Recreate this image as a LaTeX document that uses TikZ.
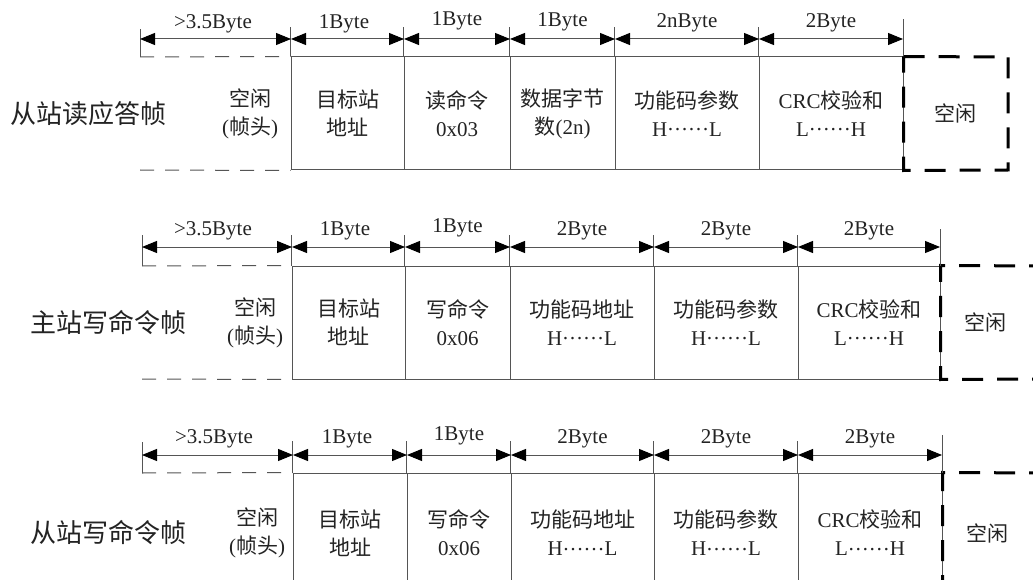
\documentclass[tikz,border=0pt]{standalone}
\usepackage{fontspec}
\setmainfont{Liberation Serif}
\newfontfamily\cjk{Noto Sans CJK SC}
\newcommand\zh[1]{{\cjk #1}}
\newcommand\dts{\raisebox{5.5pt}{……}}
\usetikzlibrary{arrows.meta,calc}
\definecolor{ln}{RGB}{85,85,85}
\definecolor{tx}{RGB}{35,35,35}
\tikzset{
 cellbox/.style={draw=ln, line width=1pt, inner sep=0pt, align=center, text=tx, font=\fontsize{21}{28}\selectfont},
 celltext/.style={inner sep=0pt, align=center, text=tx, font=\fontsize{21}{28}\selectfont},
 headline/.style={draw=ln, line width=1pt, dash pattern=on 14pt off 11pt},
 idleline/.style={draw=black, line width=3pt, dash pattern=on 21pt off 14pt},
 tickline/.style={draw=ln, line width=1pt},
 dimline/.style={draw=ln, line width=1pt, {Triangle[length=15pt,width=12pt,color=black]}-{Triangle[length=15pt,width=12pt,color=black]}},
 lbl/.style={inner sep=0pt, text=tx, font=\fontsize{21}{24}\selectfont},
 framelbl/.style={inner sep=0pt, text=tx, font=\fontsize{26}{30}\selectfont\cjk},
}
\begin{document}
\begin{tikzpicture}[x=1pt,y=-1pt]
\useasboundingbox (0,0) rectangle (1033,580);
\fill[white] (0,0) rectangle (1033,580);

% ================= Frame 1 =================
\node[framelbl] (f1name) at (88,113.5) {从站读应答帧};
\node[celltext] (f1h) at (250,113.5) {\zh{空闲}\\(\zh{帧头})};
\node[cellbox, minimum width=113pt, minimum height=113pt] (f1c2) at (347.5,113.5) {\zh{目标站}\\\zh{地址}};
\node[cellbox, minimum width=106pt, minimum height=113pt] (f1c3) at (457,113.5) {\zh{读命令}\\0x03};
\node[cellbox, minimum width=105pt, minimum height=113pt] (f1c4) at (562.5,113.5) {\zh{数据字节}\\\zh{数}(2n)};
\node[cellbox, minimum width=144pt, minimum height=113pt] (f1c5) at (687,113.5) {\zh{功能码参数}\\H\dts L};
\node[cellbox, minimum width=144pt, minimum height=113pt] (f1c6) at (831,113.5) {CRC\zh{校验和}\\L\dts H};
\node[celltext] (f1t) at (955.5,113.5) {\zh{空闲}};
\coordinate (f1hn) at (140,57);
\coordinate (f1hs) at (140,170);
\draw[headline] (f1hn) -- (f1c2.north west);
\draw[headline] (f1hs) -- (f1c2.south west);
\coordinate (f1tne) at (1008,57);
\coordinate (f1tse) at (1008,170);
\draw[idleline] (f1c6.north east) -- (f1tne) -- (f1tse) -- (f1c6.south east) -- cycle;
% ticks
\draw[tickline] (f1hn) -- (140,29);
\foreach \c in {f1c2,f1c3,f1c4,f1c5,f1c6} \draw[tickline] (\c.north west) -- ++(0,-29);
\draw[tickline] (f1c6.north east) -- ++(0,-37);
% dimension arrows
\coordinate (f1a0) at (140,39);
\coordinate (f1a1) at (291,39);
\coordinate (f1a2) at (404,39);
\coordinate (f1a3) at (510,39);
\coordinate (f1a4) at (615,39);
\coordinate (f1a5) at (759,39);
\coordinate (f1a6) at (903,39);
\draw[dimline] (f1a0) -- (f1a1);
\draw[dimline] (f1a1) -- (f1a2);
\draw[dimline] (f1a2) -- (f1a3);
\draw[dimline] (f1a3) -- (f1a4);
\draw[dimline] (f1a4) -- (f1a5);
\draw[dimline] (f1a5) -- (f1a6);
\node[lbl] (f1l1) at (213,24) {>3.5Byte};
\node[lbl] (f1l2) at (344,24) {1Byte};
\node[lbl] (f1l3) at (457,21) {1Byte};
\node[lbl] (f1l4) at (562.5,22) {1Byte};
\node[lbl] (f1l5) at (687,23) {2nByte};
\node[lbl] (f1l6) at (831,23) {2Byte};

% ================= Frame 2 =================
\node[framelbl] (f2name) at (108,322.5) {主站写命令帧};
\node[celltext] (f2h) at (255,322.5) {\zh{空闲}\\(\zh{帧头})};
\node[cellbox, minimum width=113pt, minimum height=113pt] (f2c2) at (348.5,322.5) {\zh{目标站}\\\zh{地址}};
\node[cellbox, minimum width=105pt, minimum height=113pt] (f2c3) at (457.5,322.5) {\zh{写命令}\\0x06};
\node[cellbox, minimum width=144pt, minimum height=113pt] (f2c4) at (582,322.5) {\zh{功能码地址}\\H\dts L};
\node[cellbox, minimum width=144pt, minimum height=113pt] (f2c5) at (726,322.5) {\zh{功能码参数}\\H\dts L};
\node[cellbox, minimum width=142pt, minimum height=113pt] (f2c6) at (869,322.5) {CRC\zh{校验和}\\L\dts H};
\node[celltext] (f2t) at (985,322.5) {\zh{空闲}};
\coordinate (f2hn) at (142,266);
\coordinate (f2hs) at (142,379);
\draw[headline] (f2hn) -- (f2c2.north west);
\draw[headline] (f2hs) -- (f2c2.south west);
\coordinate (f2tne) at (1050,266);
\coordinate (f2tse) at (1050,379);
\draw[idleline] (f2tne) -- (f2c6.north east) -- (f2c6.south east) -- (f2tse);
\draw[tickline] (f2hn) -- (142,235);
\foreach \c in {f2c2,f2c3,f2c4,f2c5,f2c6} \draw[tickline] (\c.north west) -- ++(0,-31);
\draw[tickline] (f2c6.north east) -- ++(0,-37);
\coordinate (f2a0) at (142,247);
\coordinate (f2a1) at (292,247);
\coordinate (f2a2) at (405,247);
\coordinate (f2a3) at (510,247);
\coordinate (f2a4) at (654,247);
\coordinate (f2a5) at (798,247);
\coordinate (f2a6) at (940,247);
\draw[dimline] (f2a0) -- (f2a1);
\draw[dimline] (f2a1) -- (f2a2);
\draw[dimline] (f2a2) -- (f2a3);
\draw[dimline] (f2a3) -- (f2a4);
\draw[dimline] (f2a4) -- (f2a5);
\draw[dimline] (f2a5) -- (f2a6);
\node[lbl] (f2l1) at (213,231) {>3.5Byte};
\node[lbl] (f2l2) at (345,231) {1Byte};
\node[lbl] (f2l3) at (457.5,228) {1Byte};
\node[lbl] (f2l4) at (582,231) {2Byte};
\node[lbl] (f2l5) at (726,231) {2Byte};
\node[lbl] (f2l6) at (869,231) {2Byte};

% ================= Frame 3 =================
\node[framelbl] (f3name) at (108,533) {从站写命令帧};
\node[celltext] (f3h) at (257,533) {\zh{空闲}\\(\zh{帧头})};
\node[cellbox, minimum width=114pt, minimum height=120pt] (f3c2) at (350,533) {\zh{目标站}\\\zh{地址}};
\node[cellbox, minimum width=104pt, minimum height=120pt] (f3c3) at (459,533) {\zh{写命令}\\0x06};
\node[cellbox, minimum width=143pt, minimum height=120pt] (f3c4) at (582.5,533) {\zh{功能码地址}\\H\dts L};
\node[cellbox, minimum width=144pt, minimum height=120pt] (f3c5) at (726,533) {\zh{功能码参数}\\H\dts L};
\node[cellbox, minimum width=144pt, minimum height=120pt] (f3c6) at (870,533) {CRC\zh{校验和}\\L\dts H};
\node[celltext] (f3t) at (987,533) {\zh{空闲}};
\coordinate (f3hn) at (142,473);
\coordinate (f3hs) at (142,593);
\draw[headline] (f3hn) -- (f3c2.north west);
\draw[headline] (f3hs) -- (f3c2.south west);
\coordinate (f3tne) at (1050,473);
\coordinate (f3tse) at (1050,593);
\draw[idleline] (f3tne) -- (f3c6.north east) -- (f3c6.south east) -- (f3tse);
\draw[tickline] (f3hn) -- (142,442);
\foreach \c in {f3c2,f3c3,f3c4,f3c5,f3c6} \draw[tickline] (\c.north west) -- ++(0,-32);
\draw[tickline] (f3c6.north east) -- ++(0,-38);
\coordinate (f3a0) at (142,455);
\coordinate (f3a1) at (293,455);
\coordinate (f3a2) at (407,455);
\coordinate (f3a3) at (511,455);
\coordinate (f3a4) at (654,455);
\coordinate (f3a5) at (798,455);
\coordinate (f3a6) at (942,455);
\draw[dimline] (f3a0) -- (f3a1);
\draw[dimline] (f3a1) -- (f3a2);
\draw[dimline] (f3a2) -- (f3a3);
\draw[dimline] (f3a3) -- (f3a4);
\draw[dimline] (f3a4) -- (f3a5);
\draw[dimline] (f3a5) -- (f3a6);
\node[lbl] (f3l1) at (214,439) {>3.5Byte};
\node[lbl] (f3l2) at (347,439) {1Byte};
\node[lbl] (f3l3) at (459,436) {1Byte};
\node[lbl] (f3l4) at (582.5,439) {2Byte};
\node[lbl] (f3l5) at (726,439) {2Byte};
\node[lbl] (f3l6) at (870,439) {2Byte};
\end{tikzpicture}
\end{document}
